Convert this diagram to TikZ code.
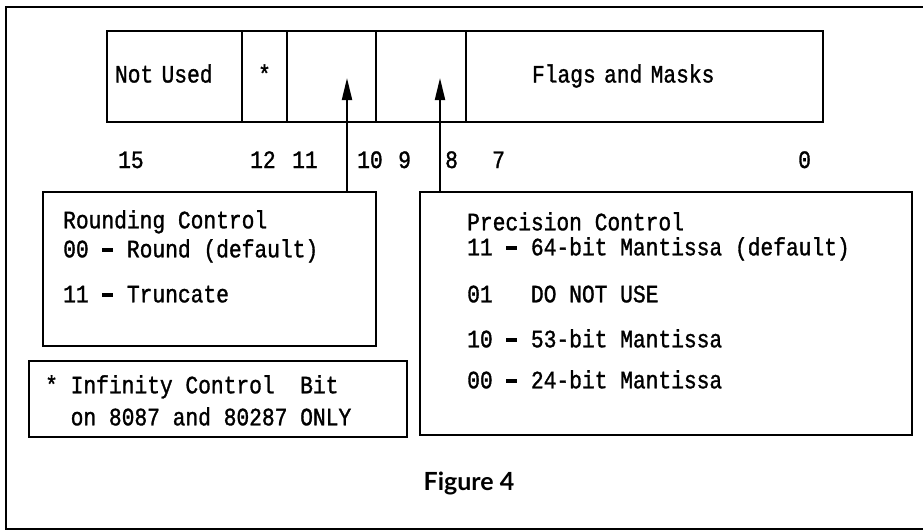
\documentclass[tikz,border=0pt]{standalone}
\usepackage{fontspec}
\usepackage{tikz}
\usetikzlibrary{arrows.meta, positioning}
\newfontfamily\regfont[FakeStretch=0.85, FakeBold=1.2]{Liberation Mono}
\newfontfamily\capfont{Lato}
\newcommand{\dashbar}{\makebox[12.75pt]{\rule[5pt]{11pt}{4.5pt}}}

\begin{document}
\begin{tikzpicture}[
  x=1pt, y=-1pt,
  every node/.style={font=\regfont\fontsize{25}{25}\selectfont},
  cell/.style={draw, line width=2pt, minimum height=91pt, inner sep=0pt, outer sep=0pt, text height=17pt, text depth=5pt},
  infobox/.style={draw, line width=2pt, anchor=north west, inner sep=0pt, outer sep=0pt},
  infotext/.style={anchor=north west, inner sep=0pt, align=left},
  bitnum/.style={anchor=base west, inner sep=0pt},
  arr/.style={-{Triangle[length=22pt, width=10pt]}, line width=2pt},
]
  \useasboundingbox (0,0) rectangle (923,530);
  \draw[line width=2.5pt] (923,7) -- (6,7) -- (6,529) -- (923,529);

  % Register cells
  \node[cell, anchor=north west, inner xsep=8pt, text width=119pt, align=left] (notused) at (107,31) {Not Used};
  \node[cell, minimum width=45pt, right=0pt of notused] (ic) {*};
  \node[cell, minimum width=89pt, right=0pt of ic] (rcbits) {};
  \node[cell, minimum width=90pt, right=0pt of rcbits] (pcbits) {};
  \node[cell, inner xsep=66pt, text width=225pt, align=left, right=0pt of pcbits] (flags) {Flags and Masks};

  % Bit numbers
  \node[bitnum] (b15) at (118,168) {15};
  \node[bitnum] (b12) at (250,168) {12};
  \node[bitnum] (b11) at (292,168) {11};
  \node[bitnum] (b10) at (357,168) {10};
  \node[bitnum] (b9) at (398,168) {9};
  \node[bitnum] (b8) at (445,168) {8};
  \node[bitnum] (b7) at (492,168) {7};
  \node[bitnum] (b0) at (798,168) {0};

  % Description boxes
  \node[infobox, minimum width=333pt, minimum height=154pt] (rc) at (43,192) {};
  \node[infotext, below right=18pt and 20pt of rc.north west] (rctext)
    {Rounding Control\\[4pt]00 \dashbar{} Round (default)\\[20pt]11 \dashbar{} Truncate};
  \node[infobox, minimum width=492pt, minimum height=243pt] (pc) at (420,192) {};
  \node[infotext, below right=20pt and 47pt of pc.north west] (pctext)
    {Precision Control\\11 \dashbar{} 64-bit Mantissa (default)\\[22pt]01\ \ \ DO NOT USE\\[20pt]10 \dashbar{} 53-bit Mantissa\\[16pt]00 \dashbar{} 24-bit Mantissa};
  \node[infobox, minimum width=378pt, minimum height=76pt] (inf) at (29,361) {};
  \node[infotext, below right=14pt and 16pt of inf.north west] (inftext)
    {* Infinity Control\ \ Bit\\[7pt]\ \ on 8087 and 80287 ONLY};

  % Arrows
  \coordinate (rctip) at (347,78);
  \coordinate (pctip) at (440,78);
  \draw[arr] (rctip |- rc.north) -- (rctip);
  \draw[arr] (pctip |- pc.north) -- (pctip);

  % Caption
  \node[anchor=base, font=\capfont\bfseries\fontsize{25}{25}\selectfont] (caption) at (469,490) {Figure 4};
\end{tikzpicture}
\end{document}
